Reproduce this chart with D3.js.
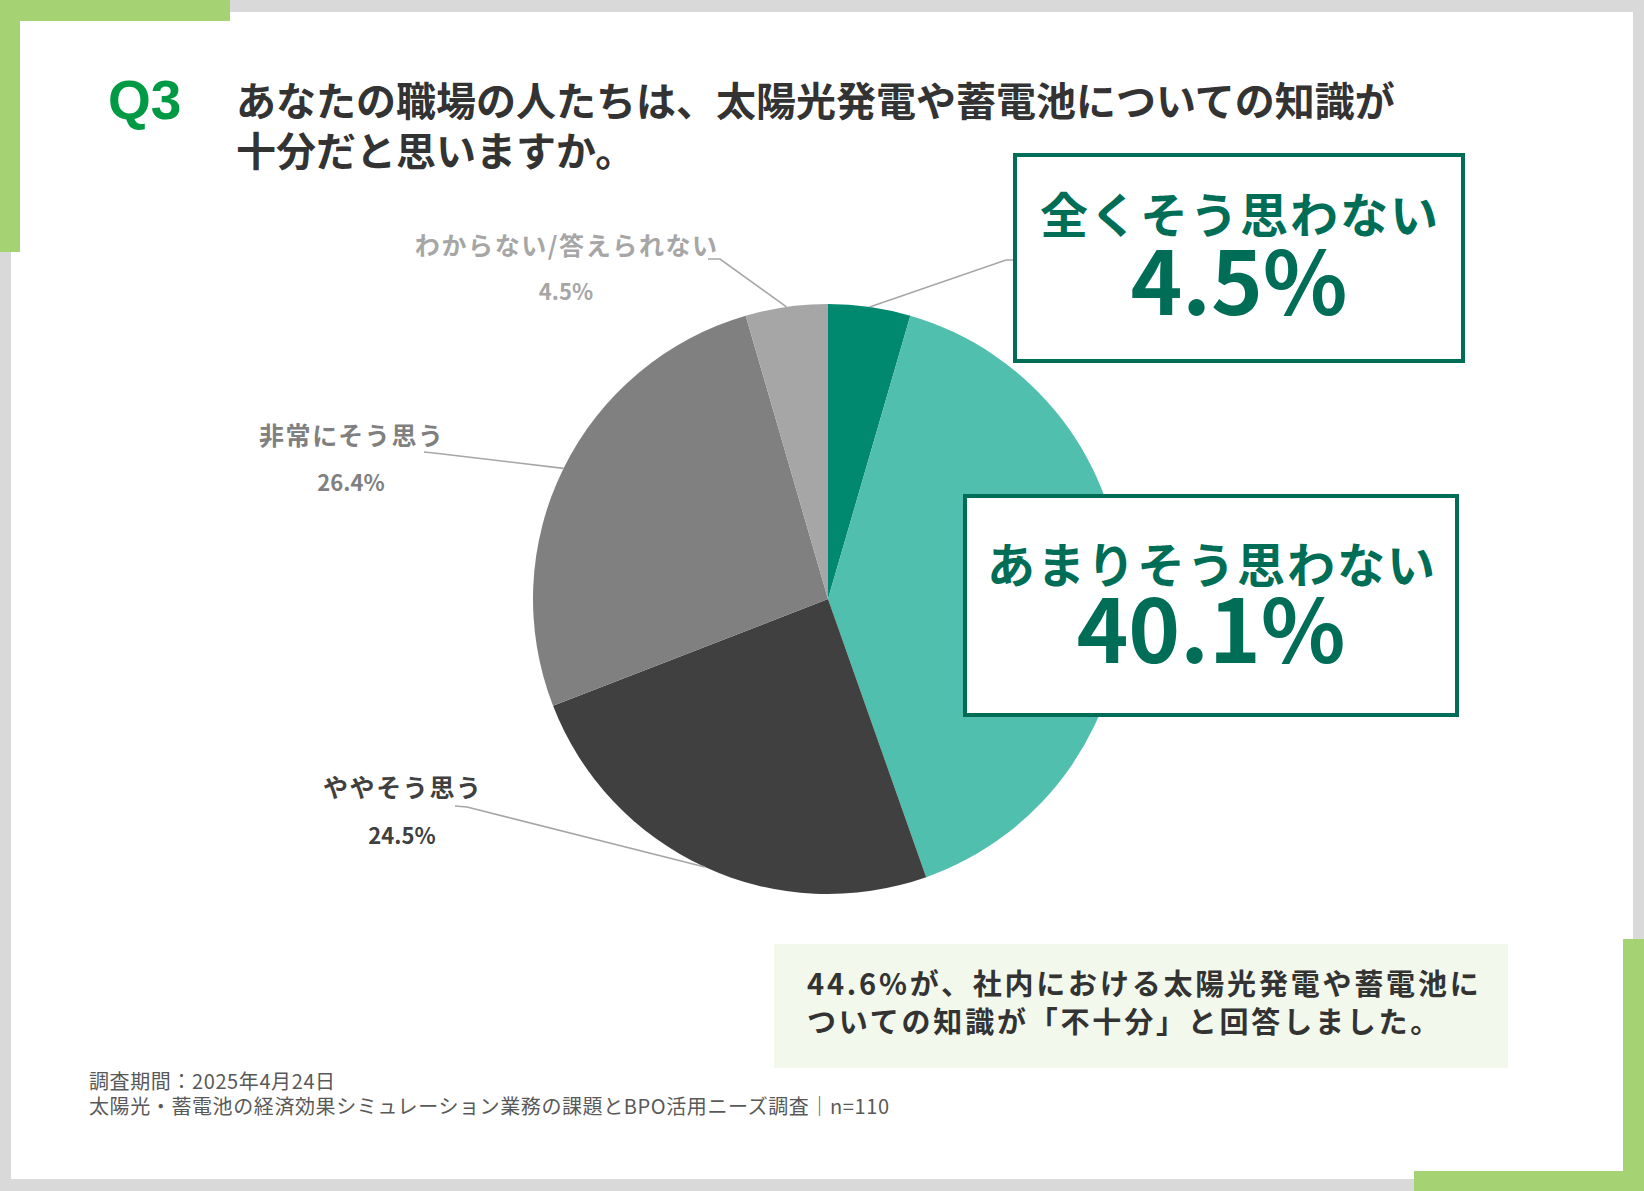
<!DOCTYPE html>
<html lang="ja">
<head>
<meta charset="utf-8">
<script src="https://cdn.jsdelivr.net/npm/d3@7/dist/d3.min.js"></script>
<style>
  html, body { margin: 0; padding: 0; background: #d9d9d9; }
  svg { display: block; }
  .jp { font-family: "Noto Sans CJK JP", "Noto Sans", sans-serif; }
</style>
</head>
<body>
<div id="chart"></div>
<script>
"use strict";

// ---------------- data ----------------
const categories = ["全くそう思わない", "あまりそう思わない", "ややそう思う", "非常にそう思う", "わからない/答えられない"];
const values = [4.5, 40.1, 24.5, 26.4, 4.5];
const titleLines = ["あなたの職場の人たちは、太陽光発電や蓄電池についての知識が", "十分だと思いますか。"];
const summaryLines = ["44.6%が、社内における太陽光発電や蓄電池に", "ついての知識が「不十分」と回答しました。"];
const footerLines = ["調査期間：2025年4月24日", "太陽光・蓄電池の経済効果シミュレーション業務の課題とBPO活用ニーズ調査｜n=110"];

// ---------------- setup ----------------
const width = 1644;
const height = 1191;
const svg = d3.select("#chart").append("svg")
    .attr("width", width)
    .attr("height", height)
    .attr("viewBox", `0 0 ${width} ${height}`);

const fmt = v => d3.format(".1f")(v) + "%";
const color = d3.scaleOrdinal()
    .domain(categories)
    .range(["#00896f", "#50bfad", "#404040", "#808080", "#a6a6a6"]);
const labelColor = d3.scaleOrdinal()
    .domain(categories)
    .range(["#006e56", "#006e56", "#404040", "#808080", "#a6a6a6"]);

// background card + green corners
svg.append("rect").attr("width", width).attr("height", height).attr("fill", "#d9d9d9");
svg.append("rect").attr("x", 11).attr("y", 12).attr("width", 1622).attr("height", 1167).attr("fill", "#fff");
const green = "#a5d273";
[[0, 0, 230, 21], [0, 0, 20, 252], [1623, 939, 21, 252], [1414, 1171, 230, 20]].forEach(([x, y, w, h]) => {
    svg.append("rect").attr("x", x).attr("y", y).attr("width", w).attr("height", h).attr("fill", green);
});

// ---------------- title ----------------
svg.append("text")
    .attr("x", 108).attr("y", 119)
    .attr("font-family", "'Liberation Sans', Arial, sans-serif")
    .attr("font-weight", 700)
    .attr("font-size", 55)
    .attr("fill", "#009a44")
    .text("Q3");

svg.append("g").selectAll("text")
    .data(titleLines)
    .join("text")
    .attr("class", "jp")
    .attr("x", 236)
    .attr("y", (d, i) => 99 + i * 50)
    .attr("dominant-baseline", "central")
    .attr("font-weight", 700)
    .attr("font-size", 40)
    .attr("fill", "#333")
    .text(d => d);

// ---------------- pie ----------------
const cx = 828, cy = 599, r = 295;
const pie = d3.pie().sort(null).value(d => d.value);
const arcs = pie(categories.map((c, i) => ({ name: c, value: values[i] })));
const arc = d3.arc().innerRadius(0).outerRadius(r);
const edge = d3.arc().innerRadius(r).outerRadius(r);

const g = svg.append("g").attr("transform", `translate(${cx},${cy})`);
g.selectAll("path")
    .data(arcs)
    .join("path")
    .attr("d", arc)
    .attr("fill", d => color(d.data.name));

// outside labels (index -> label centre and leader start)
const outside = [
    { i: 4, x: 566, y: 244, py: 290, from: [[708, 259], [720, 259]] },
    { i: 3, x: 351, y: 434, py: 481, from: [[424, 452], [434, 453]] },
    { i: 2, x: 402, y: 786, py: 834, from: [[455, 806], [467, 807]] }
];

const line = d3.line();
outside.forEach(o => {
    const d = arcs[o.i];
    const [ex, ey] = edge.centroid(d);
    svg.append("path")
        .attr("d", line([...o.from, [cx + ex, cy + ey]]))
        .attr("fill", "none")
        .attr("stroke", "#a6a6a6")
        .attr("stroke-width", 1.6);
    svg.append("text")
        .attr("class", "jp")
        .attr("x", o.x + 0.8).attr("y", o.y)
        .attr("text-anchor", "middle")
        .attr("dominant-baseline", "central")
        .attr("font-weight", 700)
        .attr("font-size", 25)
        .attr("letter-spacing", 1.6)
        .attr("fill", labelColor(d.data.name))
        .text(d.data.name);
    svg.append("text")
        .attr("class", "jp")
        .attr("x", o.x).attr("y", o.py)
        .attr("text-anchor", "middle")
        .attr("dominant-baseline", "central")
        .attr("font-weight", 700)
        .attr("font-size", 22)
        .attr("fill", labelColor(d.data.name))
        .text(fmt(d.data.value));
});

// callout boxes
const callouts = [
    { i: 0, x: 1015, y: 155, w: 448, h: 206, ly: 212, py: 276, from: [[1015, 260], [1006, 260]] },
    { i: 1, x: 965, y: 496, w: 492, h: 219, ly: 562, py: 624, from: null }
];
callouts.forEach(c => {
    const d = arcs[c.i];
    if (c.from) {
        const [ex, ey] = edge.centroid(d);
        svg.append("path")
            .attr("d", line([...c.from, [cx + ex, cy + ey]]))
            .attr("fill", "none")
            .attr("stroke", "#a6a6a6")
            .attr("stroke-width", 1.6);
    }
    svg.append("rect")
        .attr("x", c.x).attr("y", c.y)
        .attr("width", c.w).attr("height", c.h)
        .attr("fill", "#fff")
        .attr("stroke", "#006e56")
        .attr("stroke-width", 4);
    const mx = c.x + c.w / 2;
    svg.append("text")
        .attr("class", "jp")
        .attr("x", mx + 1).attr("y", c.ly)
        .attr("text-anchor", "middle")
        .attr("dominant-baseline", "central")
        .attr("font-weight", 700)
        .attr("font-size", 48)
        .attr("letter-spacing", 2)
        .attr("fill", labelColor(d.data.name))
        .text(d.data.name);
    svg.append("text")
        .attr("class", "jp")
        .attr("x", mx).attr("y", c.py)
        .attr("text-anchor", "middle")
        .attr("dominant-baseline", "central")
        .attr("font-weight", 700)
        .attr("font-size", 88)
        .attr("fill", labelColor(d.data.name))
        .text(fmt(d.data.value));
});

// ---------------- summary ----------------
svg.append("rect")
    .attr("x", 774).attr("y", 944)
    .attr("width", 734).attr("height", 124)
    .attr("fill", "#f2f8ec");
svg.append("g").selectAll("text")
    .data(summaryLines)
    .join("text")
    .attr("class", "jp")
    .attr("x", 807)
    .attr("y", (d, i) => 982 + i * 38)
    .attr("dominant-baseline", "central")
    .attr("font-weight", 700)
    .attr("font-size", 29)
    .attr("letter-spacing", 2.8)
    .attr("fill", "#333")
    .text(d => d);

// ---------------- footer ----------------
svg.append("g").selectAll("text")
    .data(footerLines)
    .join("text")
    .attr("class", "jp")
    .attr("x", 89)
    .attr("y", (d, i) => 1080 + i * 25)
    .attr("dominant-baseline", "central")
    .attr("font-size", 20)
    .attr("letter-spacing", 0.6)
    .attr("fill", "#595959")
    .text(d => d);
</script>
</body>
</html>
